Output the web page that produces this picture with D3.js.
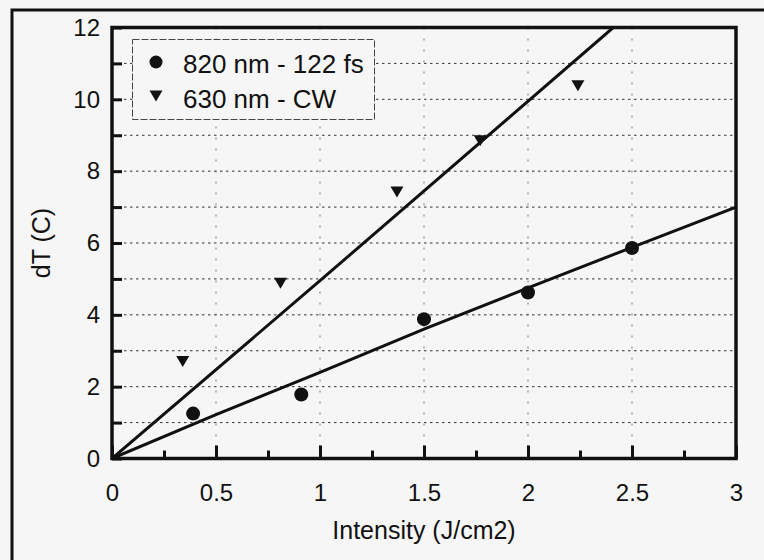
<!DOCTYPE html>
<html>
<head>
<meta charset="utf-8">
<script src="https://cdn.jsdelivr.net/npm/d3@7"></script>
<style>
  html, body { margin: 0; padding: 0; background: #f6f6f6; }
  svg { display: block; font-family: "Liberation Sans", Arial, sans-serif; }
</style>
</head>
<body>
<div id="chart"></div>
<script>
// --- data ---
const fsX = [0.39, 0.91, 1.5, 2.0, 2.5];
const fsY = [1.25, 1.78, 3.88, 4.62, 5.86];
const cwX = [0.34, 0.81, 1.37, 1.77, 2.24];
const cwY = [2.7, 4.88, 7.42, 8.85, 10.38];

// fitted lines as drawn in the original
const fitFsX = [0, 0.5, 1, 1.5, 2, 2.5, 3];
const fitFsY = [0, 1.22, 2.4, 3.6, 4.75, 5.88, 7.0];
const fitCwX = [0, 1, 2.41];
const fitCwY = [0, 4.95, 12];

const legendLabels = ['820 nm - 122 fs', '630 nm - CW'];
const xTitle = 'Intensity (J/cm2)';
const yTitle = 'dT (C)';

const W = 764, H = 560;
const pLeft = 112, pRight = 736, pTop = 27.5, pBottom = 458.5;

const svg = d3.select('#chart').append('svg')
  .attr('width', W).attr('height', H);

const x = d3.scaleLinear().domain([0, 3]).range([pLeft, pRight]);
const y = d3.scaleLinear().domain([0, 12]).range([pBottom, pTop]);

// outer frame
svg.append('rect')
  .attr('x', 12).attr('y', 10)
  .attr('width', 800).attr('height', 600)
  .attr('fill', 'none').attr('stroke', '#111').attr('stroke-width', 3);

// grid
const grid = svg.append('g');
grid.selectAll('line.h')
  .data(d3.range(1, 12))
  .join('line')
  .attr('class', 'h')
  .attr('x1', pLeft).attr('x2', pRight)
  .attr('y1', d => y(d)).attr('y2', d => y(d))
  .attr('stroke', '#333').attr('stroke-width', 1)
  .attr('stroke-dasharray', '2.5 3.5');
grid.selectAll('line.v')
  .data([0.5, 1, 1.5, 2, 2.5])
  .join('line')
  .attr('class', 'v')
  .attr('y1', pTop).attr('y2', pBottom)
  .attr('x1', d => x(d)).attr('x2', d => x(d))
  .attr('stroke', '#777').attr('stroke-width', 1)
  .attr('stroke-dasharray', '2 9');

// axes (ticks inward)
const fmt = d3.format('~g');
const yAxis = svg.append('g')
  .attr('transform', `translate(${pLeft},0)`)
  .call(d3.axisLeft(y).tickValues(d3.range(0, 13))
    .tickSize(-10).tickPadding(12)
    .tickFormat(d => d % 2 === 0 ? fmt(d) : ''));

const xMinor = svg.append('g')
  .attr('transform', `translate(0,${pBottom})`)
  .call(d3.axisBottom(x).tickValues([0.25, 0.75, 1.25, 1.75, 2.25, 2.75])
    .tickSize(-8).tickFormat(''));
const xAxis = svg.append('g')
  .attr('transform', `translate(0,${pBottom})`)
  .call(d3.axisBottom(x).tickValues(d3.range(0, 3.01, 0.5))
    .tickSize(-13).tickPadding(25).tickFormat(fmt));

[yAxis, xMinor, xAxis].forEach(g => {
  g.select('.domain').remove();
  g.selectAll('line').attr('stroke', '#111').attr('stroke-width', 3);
  g.selectAll('text').attr('fill', '#111').style('font-size', '24px')
    .style('font-family', '"Liberation Sans", Arial, sans-serif');
});

// plot border
svg.append('rect')
  .attr('x', pLeft).attr('y', pTop)
  .attr('width', pRight - pLeft).attr('height', pBottom - pTop)
  .attr('fill', 'none').attr('stroke', '#111').attr('stroke-width', 3.5);

// fit lines
svg.append('clipPath').attr('id', 'plotclip')
  .append('rect').attr('x', pLeft).attr('y', pTop)
  .attr('width', pRight - pLeft).attr('height', pBottom - pTop);

const line = d3.line().x(d => x(d[0])).y(d => y(d[1]));
const lines = svg.append('g').attr('clip-path', 'url(#plotclip)');
[[fitFsX, fitFsY], [fitCwX, fitCwY]].forEach(([xs, ys]) => {
  lines.append('path')
    .datum(xs.map((v, i) => [v, ys[i]]))
    .attr('d', line)
    .attr('fill', 'none').attr('stroke', '#111')
    .attr('stroke-width', 3).attr('stroke-linejoin', 'round');
});

// markers
const tri = 'M -6.5 -5.5 L 6.5 -5.5 L 0 5.5 Z';
svg.append('g').selectAll('circle')
  .data(fsX.map((v, i) => [v, fsY[i]]))
  .join('circle')
  .attr('cx', d => x(d[0])).attr('cy', d => y(d[1]))
  .attr('r', 7).attr('fill', '#111');
svg.append('g').selectAll('path')
  .data(cwX.map((v, i) => [v, cwY[i]]))
  .join('path')
  .attr('transform', d => `translate(${x(d[0])},${y(d[1])})`)
  .attr('d', tri).attr('fill', '#111');

// legend
const lg = svg.append('g');
lg.append('rect')
  .attr('x', 132.5).attr('y', 39.5).attr('width', 242).attr('height', 80)
  .attr('fill', '#f6f6f6').attr('stroke', '#444').attr('stroke-width', 1)
  .attr('stroke-dasharray', '7 2');
lg.append('circle').attr('cx', 156).attr('cy', 62).attr('r', 6.5).attr('fill', '#111');
lg.append('path').attr('transform', 'translate(156,96)').attr('d', tri).attr('fill', '#111');
lg.selectAll('text')
  .data(legendLabels)
  .join('text')
  .attr('x', 183).attr('y', (d, i) => 73 + i * 35)
  .attr('fill', '#111').style('font-size', '26px')
  .text(d => d);

// titles
svg.append('text')
  .attr('x', (pLeft + pRight) / 2).attr('y', 539)
  .attr('text-anchor', 'middle').attr('fill', '#111')
  .style('font-size', '25px').text(xTitle);
svg.append('text')
  .attr('transform', `translate(50,${(pTop + pBottom) / 2}) rotate(-90)`)
  .attr('text-anchor', 'middle').attr('fill', '#111')
  .style('font-size', '25px').text(yTitle);
</script>
</body>
</html>
